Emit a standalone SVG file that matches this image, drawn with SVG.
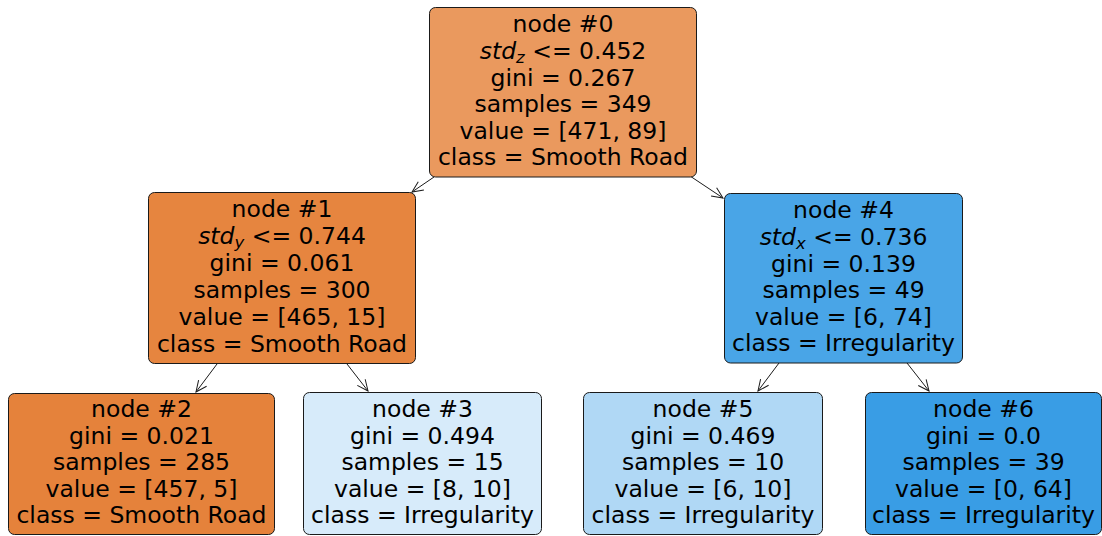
<svg xmlns="http://www.w3.org/2000/svg" width="1102" height="536" viewBox="0 0 1102 536">
  <style>
    .box { stroke: #1a1a1a; stroke-width: 1; }
    .lbl { font-family: "DejaVu Sans", "Liberation Sans", sans-serif; font-size: 23.5px; fill: #000; text-anchor: middle; }
    .it { font-style: italic; }
    .sub { font-style: italic; font-size: 16.5px; }
    .edge { stroke: #1a1a1a; stroke-width: 1; fill: none; marker-end: url(#head); }
  </style>
  <defs>
    <marker id="head" viewBox="-12 -6 13 12" refX="0" refY="0" markerWidth="13" markerHeight="12" markerUnits="userSpaceOnUse" orient="auto">
      <path d="M-11,-5 L0,0 L-11,5" fill="none" stroke="#1a1a1a" stroke-width="1"/>
    </marker>
  </defs>
  <rect width="1102" height="536" fill="#ffffff"/>

  <g id="connectors">
    <line class="edge" x1="434" y1="177" x2="412" y2="192"/>
    <line class="edge" x1="690" y1="176" x2="723" y2="198"/>
    <line class="edge" x1="217" y1="364" x2="196" y2="392"/>
    <line class="edge" x1="347" y1="364" x2="368" y2="391"/>
    <line class="edge" x1="779" y1="363" x2="758" y2="391"/>
    <line class="edge" x1="907" y1="363" x2="929" y2="391"/>
  </g>

  <g id="node0">
    <rect class="box" x="429.5" y="7.5" width="267" height="169.5" rx="6" fill="#ea995e"/>
    <text class="lbl" x="563" y="32">node #0</text>
    <text class="lbl" x="563" y="58.5"><tspan class="it">std</tspan><tspan class="sub" dy="4">z</tspan><tspan dy="-4"> &lt;= 0.452</tspan></text>
    <text class="lbl" x="563" y="85.5">gini = 0.267</text>
    <text class="lbl" x="563" y="112">samples = 349</text>
    <text class="lbl" x="563" y="138.5">value = [471, 89]</text>
    <text class="lbl" x="563" y="165">class = Smooth Road</text>
  </g>

  <g id="node1">
    <rect class="box" x="148.5" y="192.5" width="267" height="171" rx="6" fill="#e6853f"/>
    <text class="lbl" x="282" y="217">node #1</text>
    <text class="lbl" x="282" y="244"><tspan class="it">std</tspan><tspan class="sub" dy="4">y</tspan><tspan dy="-4"> &lt;= 0.744</tspan></text>
    <text class="lbl" x="282" y="271">gini = 0.061</text>
    <text class="lbl" x="282" y="298">samples = 300</text>
    <text class="lbl" x="282" y="325">value = [465, 15]</text>
    <text class="lbl" x="282" y="351.5">class = Smooth Road</text>
  </g>

  <g id="node4">
    <rect class="box" x="724.5" y="193.5" width="238" height="169.5" rx="6" fill="#49a5e7"/>
    <text class="lbl" x="843.5" y="218">node #4</text>
    <text class="lbl" x="843.5" y="244.5"><tspan class="it">std</tspan><tspan class="sub" dy="4">x</tspan><tspan dy="-4"> &lt;= 0.736</tspan></text>
    <text class="lbl" x="843.5" y="271.5">gini = 0.139</text>
    <text class="lbl" x="843.5" y="298">samples = 49</text>
    <text class="lbl" x="843.5" y="324.5">value = [6, 74]</text>
    <text class="lbl" x="843.5" y="351">class = Irregularity</text>
  </g>

  <g id="node2">
    <rect class="box" x="8.5" y="393.5" width="266" height="141" rx="6" fill="#e5823b"/>
    <text class="lbl" x="141.5" y="417">node #2</text>
    <text class="lbl" x="141.5" y="443.5">gini = 0.021</text>
    <text class="lbl" x="141.5" y="470">samples = 285</text>
    <text class="lbl" x="141.5" y="496.5">value = [457, 5]</text>
    <text class="lbl" x="141.5" y="523">class = Smooth Road</text>
  </g>

  <g id="node3">
    <rect class="box" x="303.5" y="392.5" width="238" height="142" rx="6" fill="#d7ebfa"/>
    <text class="lbl" x="422.5" y="417">node #3</text>
    <text class="lbl" x="422.5" y="443.5">gini = 0.494</text>
    <text class="lbl" x="422.5" y="470">samples = 15</text>
    <text class="lbl" x="422.5" y="496.5">value = [8, 10]</text>
    <text class="lbl" x="422.5" y="523">class = Irregularity</text>
  </g>

  <g id="node5">
    <rect class="box" x="583.5" y="392.5" width="239" height="142" rx="6" fill="#b0d8f5"/>
    <text class="lbl" x="703" y="417">node #5</text>
    <text class="lbl" x="703" y="443.5">gini = 0.469</text>
    <text class="lbl" x="703" y="470">samples = 10</text>
    <text class="lbl" x="703" y="496.5">value = [6, 10]</text>
    <text class="lbl" x="703" y="523">class = Irregularity</text>
  </g>

  <g id="node6">
    <rect class="box" x="865.5" y="392.5" width="236" height="142" rx="6" fill="#399de5"/>
    <text class="lbl" x="983.5" y="417">node #6</text>
    <text class="lbl" x="983.5" y="443.5">gini = 0.0</text>
    <text class="lbl" x="983.5" y="470">samples = 39</text>
    <text class="lbl" x="983.5" y="496.5">value = [0, 64]</text>
    <text class="lbl" x="983.5" y="523">class = Irregularity</text>
  </g>
</svg>
